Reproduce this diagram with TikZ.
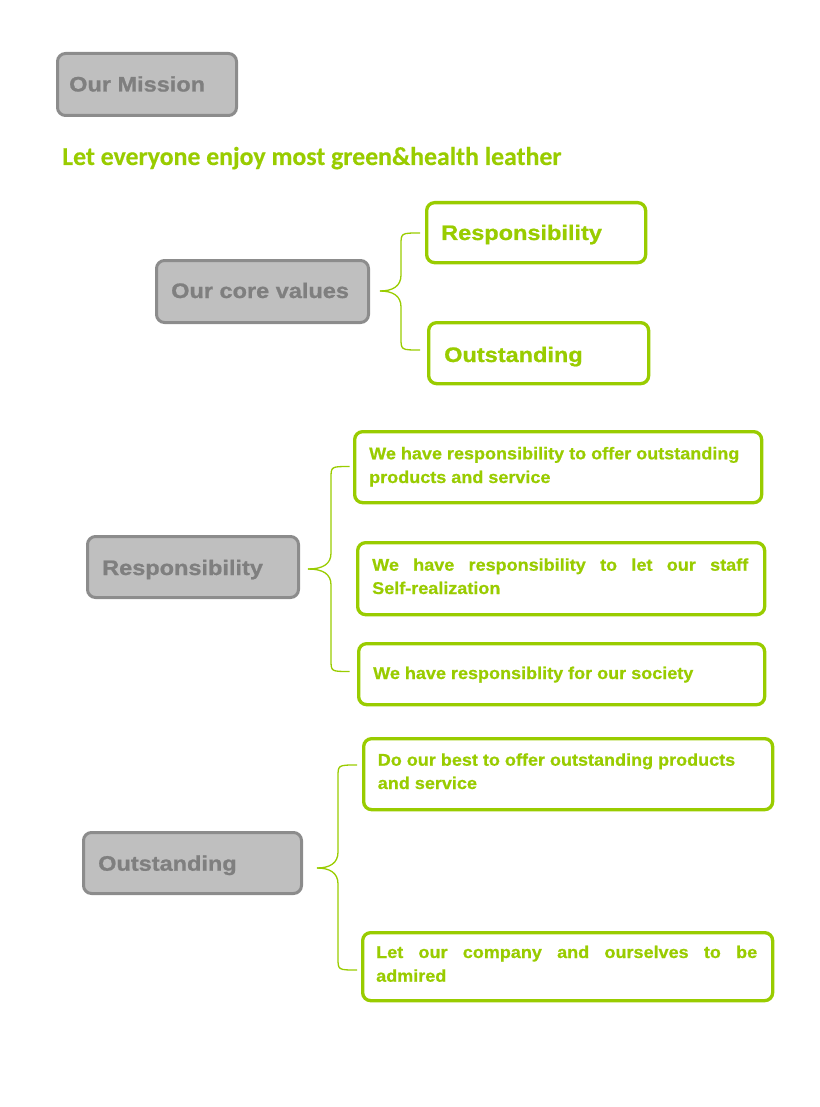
\documentclass[tikz,border=0pt]{standalone}
\usepackage{fontspec}
\newfontfamily\labfont[FakeStretch=1.12, BoldFeatures={FakeBold=0.9}]{Liberation Sans}
\newfontfamily\smallfont[FakeStretch=1.06, BoldFeatures={FakeBold=0.7}]{Liberation Sans}
\newfontfamily\missionfont[BoldFeatures={FakeBold=0.4}]{Carlito}
\definecolor{lime}{HTML}{99CC00}
\definecolor{grayfill}{HTML}{BFBFBF}
\definecolor{grayline}{HTML}{8C8C8C}
\definecolor{graytext}{HTML}{7F7F7F}
\tikzset{
  graybox/.style={draw=grayline, fill=grayfill, line width=3pt, rounded corners=8pt, anchor=north west, inner sep=0pt},
  greenbox/.style={draw=lime, fill=white, line width=3.3pt, rounded corners=8pt, anchor=north west, inner sep=0pt},
  graylab/.style={anchor=base west, inner sep=0pt, text=graytext, font=\labfont\bfseries\fontsize{21}{25}\selectfont},
  greenlab/.style={anchor=base west, inner sep=0pt, text=lime, font=\labfont\bfseries\fontsize{21}{25}\selectfont},
  smalllab/.style={anchor=base west, inner sep=0pt, text=lime, font=\smallfont\bfseries\fontsize{17}{23}\selectfont},
  brace/.style={draw=lime, line width=1.3pt}
}
% #1 tip x, #2 tip y, #3 vertical x, #4 top y, #5 bottom y, #6 end x
\newcommand{\curlybr}[6]{%
  \draw[brace] (#6,#4) .. controls (#3,#4) .. (#3,#4+12) -- (#3,#2-16)
     .. controls (#3,#2-5) and (#3-8,#2) .. (#1,#2);
  \draw[brace] (#6,#5) .. controls (#3,#5) .. (#3,#5-12) -- (#3,#2+16)
     .. controls (#3,#2+5) and (#3-8,#2) .. (#1,#2);
}
\begin{document}
\begin{tikzpicture}[x=1pt,y=-1pt]
\useasboundingbox (0,0) rectangle (819,1107);

% Mission
\node[graybox, minimum width=179pt, minimum height=62pt] (mission) at (56,52) {};
\node[graylab] (missionT) at (69,91.5) {Our Mission};
\node[anchor=base west, inner sep=0pt, text=lime, font=\missionfont\bfseries\fontsize{25.8}{30}\selectfont] (missionText) at (62,165) {Let everyone enjoy most green\&health leather};

% Core values
\node[graybox, minimum width=212pt, minimum height=62pt] (core) at (155,259) {};
\node[graylab] (coreT) at (171,298) {Our core values};
\node[greenbox, minimum width=219pt, minimum height=60pt] (hresp) at (425,201) {};
\node[greenlab] (hrespT) at (441,240) {Responsibility};
\node[greenbox, minimum width=220pt, minimum height=61pt] (hout) at (427,321) {};
\node[greenlab] (houtT) at (444,362) {Outstanding};
\curlybr{380}{291}{401}{233}{350}{420}

% Responsibility
\node[graybox, minimum width=211pt, minimum height=61pt] (resp) at (86,535) {};
\node[graylab] (respT) at (102,575) {Responsibility};
\node[greenbox, minimum width=407pt, minimum height=71pt] (ra) at (353,430) {};
\node[smalllab] (raT1) at (369,459.3) {We have responsibility to offer outstanding};
\node[smalllab] (raT2) at (369,483) {products and service};
\node[greenbox, minimum width=407pt, minimum height=72pt] (rb) at (356,541) {};
\node[smalllab] (rbT1) at (372,570.7) {\makebox[376pt][s]{We have responsibility to let our staff}};
\node[smalllab] (rbT2) at (372,594) {Self-realization};
\node[greenbox, minimum width=406pt, minimum height=61pt] (rc) at (357,642) {};
\node[smalllab] (rcT) at (373,679) {We have responsiblity for our society};
\curlybr{308}{569}{331}{466.5}{671.5}{349.5}

% Outstanding
\node[graybox, minimum width=218pt, minimum height=61pt] (outs) at (82,831) {};
\node[graylab] (outsT) at (98,870.7) {Outstanding};
\node[greenbox, minimum width=409pt, minimum height=71pt] (od) at (362,737) {};
\node[smalllab] (odT1) at (377.6,765.7) {Do our best to offer outstanding products};
\node[smalllab] (odT2) at (377.6,789) {and service};
\node[greenbox, minimum width=410pt, minimum height=68pt] (oe) at (361,931) {};
\node[smalllab] (oeT1) at (376,958) {\makebox[381pt][s]{Let our company and ourselves to be}};
\node[smalllab] (oeT2) at (376,981.7) {admired};
\curlybr{317}{868}{338}{765}{970}{357}
\end{tikzpicture}
\end{document}
